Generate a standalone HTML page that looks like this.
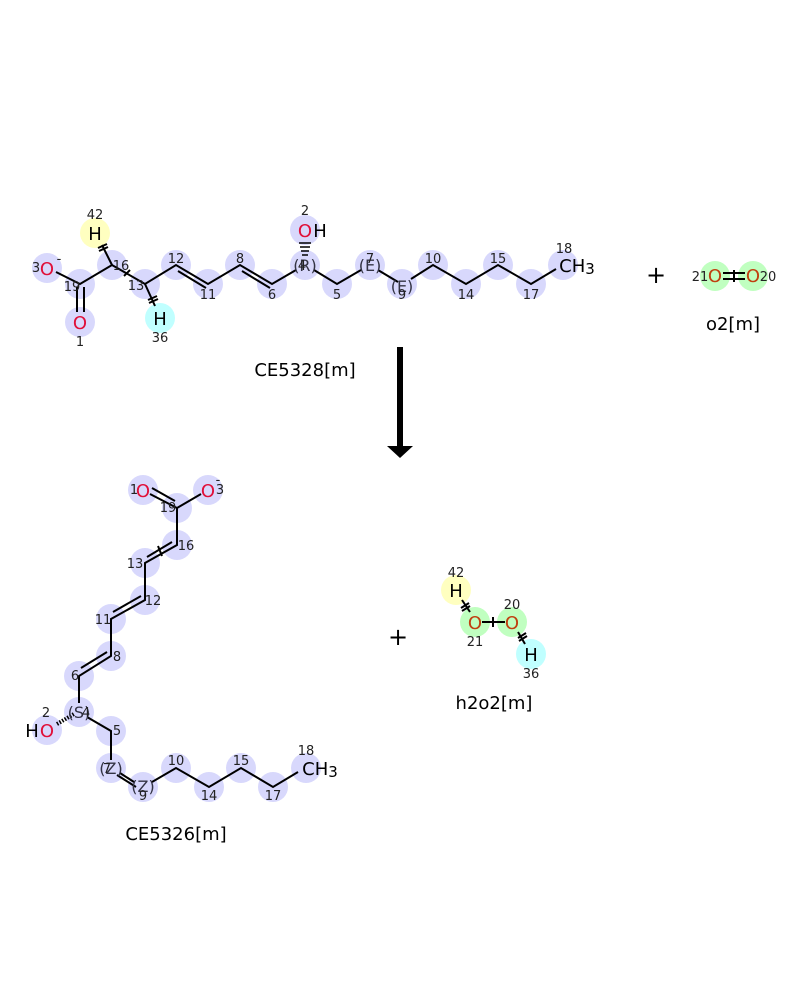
<!DOCTYPE html>
<html><head><style>body{margin:0;background:#fff}svg text{font-family:"DejaVu Sans","Liberation Sans",sans-serif}</style></head>
<body>
<svg width="800" height="1000" viewBox="0 0 800 1000" xmlns="http://www.w3.org/2000/svg">
<rect width="800" height="1000" fill="#fff"/>
<g fill="#d8d8fc">
<circle cx="47" cy="268" r="15"/><circle cx="80" cy="284" r="15"/><circle cx="80" cy="322" r="15"/>
<circle cx="112" cy="265" r="15"/><circle cx="145" cy="284" r="15"/><circle cx="176" cy="265" r="15"/>
<circle cx="208" cy="284" r="15"/><circle cx="240" cy="265" r="15"/><circle cx="272" cy="284" r="15"/>
<circle cx="305" cy="265" r="15"/><circle cx="305" cy="230" r="15"/><circle cx="337" cy="284" r="15"/>
<circle cx="370" cy="265" r="15"/><circle cx="402" cy="284" r="15"/><circle cx="433" cy="265" r="15"/>
<circle cx="466" cy="284" r="15"/><circle cx="498" cy="265" r="15"/><circle cx="531" cy="284" r="15"/>
<circle cx="563" cy="265" r="15"/>
<circle cx="143" cy="490" r="15"/><circle cx="208" cy="490" r="15"/><circle cx="177" cy="508" r="15"/>
<circle cx="177" cy="545" r="15"/><circle cx="145" cy="563" r="15"/><circle cx="145" cy="600" r="15"/>
<circle cx="111" cy="619" r="15"/><circle cx="111" cy="656" r="15"/><circle cx="79" cy="676" r="15"/>
<circle cx="79" cy="712" r="15"/><circle cx="47" cy="730" r="15"/><circle cx="111" cy="731" r="15"/>
<circle cx="111" cy="768" r="15"/><circle cx="143" cy="787" r="15"/><circle cx="176" cy="768" r="15"/>
<circle cx="209" cy="787" r="15"/><circle cx="241" cy="768" r="15"/><circle cx="273" cy="787" r="15"/>
<circle cx="306" cy="768" r="15"/>
</g>
<circle cx="95" cy="233" r="15" fill="#ffffc0"/><circle cx="160" cy="318" r="15" fill="#c0ffff"/>
<circle cx="715" cy="276" r="15" fill="#c0ffc0"/><circle cx="753" cy="276" r="15" fill="#c0ffc0"/>
<circle cx="456" cy="590" r="15" fill="#ffffc0"/><circle cx="475" cy="622" r="15" fill="#c0ffc0"/>
<circle cx="512" cy="622" r="15" fill="#c0ffc0"/><circle cx="531" cy="654" r="15" fill="#c0ffff"/>
<g stroke="#000" stroke-width="2" fill="none">
<path d="M56 272 L80 284 L112 265 L145 284 L176 265 L208 284 L240 265 L272 284 L296 270 M314 270 L337 284 L361 270 M411 279 L433 265 L466 284 L498 265 L531 284 L556 269"/>
<path d="M77 287 V312 M84 287 V312"/>
<path d="M178 271 L206 288 M242 271 L270 288 M378 270 L398 282"/>
<path d="M112 265 L102 245 M145 284 L155 306"/>
<path d="M98 248 L107 244 M99 251 L108 247 M124 276 L130 270 M148 300 L157 296 M149 303 L158 299"/>
<path d="M723 273 H745 M723 279 H745 M734 270 V282"/>
<path d="M482 622 H505 M493 617 V627 M462 600 L470 612 M518 632 L525 644 M461 608 L469 603 M462 611 L470 606 M518 638 L526 633 M519 641 L527 636"/>
<path d="M150 494 L177 508 L201 494 M152 488 L175 501 M177 508 V545 L145 563 V600 L111 619 V656 L79 676 V703 M87 717 L111 731 V760 M120 773 L134 782 M152 782 L176 768 L209 787 L241 768 L273 787 L298 772"/>
<path d="M172 542 L147 557 M158 546 L162 556 M141 596 L113 612 M107 652 L81 668 M117 775 L136 787"/>
</g>
<path d="M299 243 H311 M300 247 H310 M301 251 H309 M302 255 H308" stroke="#000" stroke-width="1.5"/>
<path d="M57 724 L74 714" stroke="#000" stroke-width="4" stroke-dasharray="1.5 1.5"/>
<path d="M400 347 V447" stroke="#000" stroke-width="6"/><path d="M387 446 H413 L400 458 Z" fill="#000"/>
<g font-size="18" text-anchor="middle">
<text x="47" y="275" fill="#e0103a">O</text><text x="80" y="329" fill="#e0103a">O</text>
<text x="305" y="237" fill="#e0103a">O</text><text x="320" y="237">H</text>
<text x="95" y="240">H</text><text x="160" y="325">H</text>
<text x="577" y="272">CH<tspan font-size="15" dy="2">3</tspan></text>
<text x="143" y="497" fill="#e0103a">O</text><text x="208" y="497" fill="#e0103a">O</text>
<text x="47" y="737" fill="#e0103a">O</text><text x="32" y="737">H</text>
<text x="320" y="775">CH<tspan font-size="15" dy="2">3</tspan></text>
<text x="715" y="282" fill="#c04010">O</text><text x="753" y="282" fill="#c04010">O</text>
<text x="475" y="629" fill="#c04010">O</text><text x="512" y="629" fill="#c04010">O</text>
<text x="456" y="597">H</text><text x="531" y="661">H</text>
<text x="656" y="283" font-size="24">+</text><text x="398" y="645" font-size="24">+</text>
<text x="305" y="376">CE5328[m]</text><text x="733" y="330">o2[m]</text>
<text x="176" y="840">CE5326[m]</text><text x="494" y="709">h2o2[m]</text>
</g>
<g font-size="16" text-anchor="middle" fill="#334">
<text x="305" y="271">(R)</text><text x="370" y="271">(E)</text><text x="402" y="292">(E)</text>
<text x="79" y="718">(S)</text><text x="111" y="774">(Z)</text><text x="143" y="792">(Z)</text>
</g>
<g font-size="13" text-anchor="middle" fill="#222">
<text x="36" y="272">3</text><text x="59" y="263">-</text><text x="72" y="291">19</text><text x="80" y="346">1</text>
<text x="121" y="270">16</text><text x="136" y="290">13</text><text x="176" y="263">12</text><text x="208" y="299">11</text>
<text x="240" y="263">8</text><text x="272" y="299">6</text><text x="305" y="215">2</text><text x="302" y="270">4</text>
<text x="337" y="299">5</text><text x="370" y="263">7</text><text x="402" y="299">9</text><text x="433" y="263">10</text>
<text x="466" y="299">14</text><text x="498" y="263">15</text><text x="531" y="299">17</text><text x="564" y="253">18</text>
<text x="95" y="219">42</text><text x="160" y="342">36</text>
<text x="700" y="281">21</text><text x="768" y="281">20</text>
<text x="456" y="577">42</text><text x="475" y="646">21</text><text x="512" y="609">20</text><text x="531" y="678">36</text>
<text x="134" y="494">1</text><text x="220" y="494">3</text><text x="218" y="484">-</text><text x="168" y="512">19</text>
<text x="186" y="550">16</text><text x="135" y="568">13</text><text x="153" y="605">12</text><text x="103" y="624">11</text>
<text x="117" y="661">8</text><text x="75" y="680">6</text><text x="86" y="717">4</text><text x="46" y="717">2</text>
<text x="117" y="735">5</text><text x="107" y="773">7</text><text x="143" y="800">9</text><text x="176" y="765">10</text>
<text x="209" y="800">14</text><text x="241" y="765">15</text><text x="273" y="800">17</text><text x="306" y="755">18</text>
</g>
</svg>
</body></html>
